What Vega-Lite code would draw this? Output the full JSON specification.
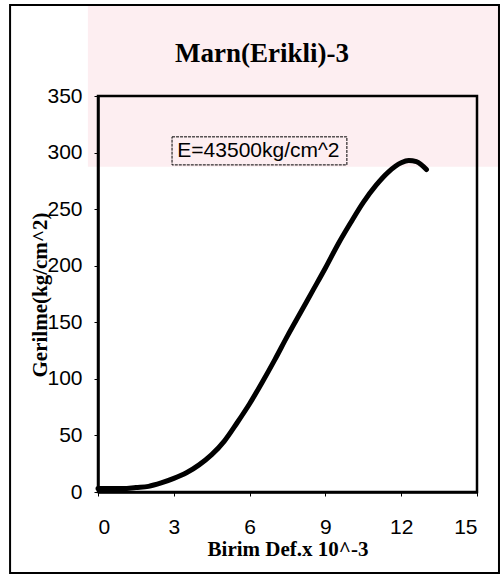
{
  "$schema": "https://vega.github.io/schema/vega-lite/v6.json",
  "width": 379,
  "height": 396,
  "autosize": {"type": "none"},
  "padding": {"left": 98, "top": 96, "right": 26, "bottom": 83},
  "background": "white",
  "config": {
    "view": {"stroke": null, "fill": null},
    "axis": {
      "grid": false,
      "domainColor": "black",
      "domainWidth": 2.5,
      "tickColor": "black",
      "tickWidth": 1,
      "tickSize": 4,
      "labelFont": "Liberation Sans",
      "labelFontSize": 21,
      "labelColor": "black",
      "titleFont": "Liberation Serif",
      "titleFontSize": 21,
      "titleFontWeight": "bold",
      "titleColor": "black"
    }
  },
  "datasets": {
    "curve": [
      {"strain": 0.0, "stress": 3},
      {"strain": 0.5, "stress": 3},
      {"strain": 1.0, "stress": 3},
      {"strain": 1.5, "stress": 4},
      {"strain": 2.0, "stress": 5},
      {"strain": 2.5, "stress": 8},
      {"strain": 3.0, "stress": 12},
      {"strain": 3.5, "stress": 17},
      {"strain": 4.0, "stress": 24},
      {"strain": 4.5, "stress": 33},
      {"strain": 5.0, "stress": 45},
      {"strain": 5.5, "stress": 61},
      {"strain": 6.0, "stress": 78},
      {"strain": 6.5, "stress": 97},
      {"strain": 7.0, "stress": 117},
      {"strain": 7.5, "stress": 138},
      {"strain": 8.0, "stress": 158},
      {"strain": 8.5, "stress": 178},
      {"strain": 9.0, "stress": 198},
      {"strain": 9.5, "stress": 219},
      {"strain": 10.0, "stress": 238},
      {"strain": 10.5, "stress": 256},
      {"strain": 11.0, "stress": 271},
      {"strain": 11.5, "stress": 283},
      {"strain": 12.0, "stress": 291},
      {"strain": 12.3, "stress": 293},
      {"strain": 12.6, "stress": 292},
      {"strain": 13.0, "stress": 285}
    ],
    "note": [{"label": "E=43500kg/cm^2"}],
    "heading": [{"label": "Marn(Erikli)-3"}]
  },
  "layer": [
    {
      "data": {"name": "note"},
      "mark": {"type": "rect", "fill": "#fdeef1", "clip": false},
      "encoding": {
        "x": {"datum": -0.4, "type": "quantitative", "scale": {"domain": [0, 15]}},
        "x2": {"datum": 15.87},
        "y": {"datum": 430, "type": "quantitative", "scale": {"domain": [0, 350]}},
        "y2": {"datum": 287.4}
      }
    },
    {
      "data": {"name": "note"},
      "mark": {"type": "rect", "fill": null, "stroke": "black", "strokeWidth": 2, "clip": false},
      "encoding": {
        "x": {"datum": -3.48, "type": "quantitative", "scale": {"domain": [0, 15]}},
        "x2": {"datum": 15.87},
        "y": {"datum": 430.5, "type": "quantitative", "scale": {"domain": [0, 350]}},
        "y2": {"datum": -71.6}
      }
    },
    {
      "data": {"name": "note"},
      "mark": {"type": "rect", "fill": null, "stroke": "black", "strokeWidth": 2.5},
      "encoding": {
        "x": {"datum": 0, "type": "quantitative"},
        "x2": {"datum": 15},
        "y": {"datum": 350, "type": "quantitative"},
        "y2": {"datum": 0}
      }
    },
    {
      "data": {"name": "heading"},
      "mark": {"type": "text", "font": "Liberation Serif", "fontSize": 27, "fontWeight": "bold", "color": "black", "align": "center", "baseline": "alphabetic", "clip": false},
      "encoding": {
        "x": {"datum": 6.49, "type": "quantitative"},
        "y": {"datum": 380.2, "type": "quantitative"},
        "text": {"field": "label"}
      }
    },
    {
      "data": {"name": "curve"},
      "mark": {"type": "line", "color": "black", "strokeWidth": 5, "interpolate": "monotone", "strokeCap": "round"},
      "encoding": {
        "x": {
          "field": "strain", "type": "quantitative",
          "scale": {"domain": [0, 15], "nice": false, "zero": false},
          "axis": {"values": [0, 3, 6, 9, 12, 15], "title": "Birim Def.x 10^-3", "labelPadding": 20, "titlePadding": 1, "zindex": 2}
        },
        "y": {
          "field": "stress", "type": "quantitative",
          "scale": {"domain": [0, 350], "nice": false},
          "axis": {"values": [0, 50, 100, 150, 200, 250, 300, 350], "title": "Gerilme(kg/cm^2)", "labelPadding": 12, "titleX": -58, "titleY": 198.5, "titleAngle": -90, "titleAlign": "center", "titleBaseline": "middle", "zindex": 2}
        }
      }
    },
    {
      "data": {"name": "note"},
      "mark": {"type": "rect", "fill": "white", "fillOpacity": 0, "stroke": "black", "strokeWidth": 1, "strokeDash": [3, 1]},
      "encoding": {
        "x": {"datum": 2.93, "type": "quantitative"},
        "x2": {"datum": 9.85},
        "y": {"datum": 313.9, "type": "quantitative"},
        "y2": {"datum": 289.1}
      }
    },
    {
      "data": {"name": "note"},
      "mark": {"type": "text", "font": "Liberation Sans", "fontSize": 21, "color": "black", "align": "center", "baseline": "middle"},
      "encoding": {
        "x": {"datum": 6.35, "type": "quantitative"},
        "y": {"datum": 301.5, "type": "quantitative"},
        "text": {"field": "label"}
      }
    }
  ]
}
